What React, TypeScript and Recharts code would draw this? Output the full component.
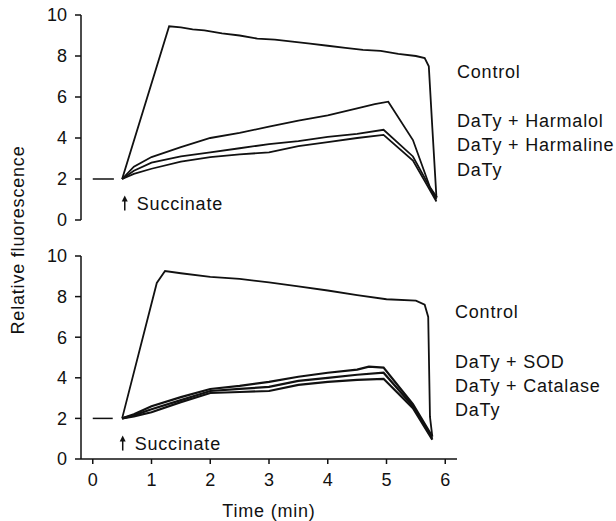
import { LineChart, Line, XAxis, YAxis, ReferenceLine, ReferenceDot } from "recharts";

// time (min) / relative fluorescence
const topControl = [
  { t: 0.5, v: 2.0 }, { t: 1.3, v: 9.45 }, { t: 1.5, v: 9.4 }, { t: 1.7, v: 9.3 },
  { t: 1.9, v: 9.25 }, { t: 2.2, v: 9.1 }, { t: 2.5, v: 9.0 }, { t: 2.8, v: 8.85 },
  { t: 3.1, v: 8.8 }, { t: 3.4, v: 8.7 }, { t: 3.7, v: 8.6 }, { t: 4.0, v: 8.5 },
  { t: 4.3, v: 8.4 }, { t: 4.6, v: 8.3 }, { t: 4.9, v: 8.25 }, { t: 5.2, v: 8.1 },
  { t: 5.5, v: 8.0 }, { t: 5.65, v: 7.9 }, { t: 5.72, v: 7.5 }, { t: 5.78, v: 4.5 },
  { t: 5.85, v: 1.1 },
];
const topHarmalol = [
  { t: 0.5, v: 2.0 }, { t: 0.7, v: 2.6 }, { t: 1.0, v: 3.07 }, { t: 1.5, v: 3.55 },
  { t: 2.0, v: 4.0 }, { t: 2.5, v: 4.25 }, { t: 3.0, v: 4.55 }, { t: 3.5, v: 4.85 },
  { t: 4.0, v: 5.1 }, { t: 4.5, v: 5.45 }, { t: 4.8, v: 5.65 }, { t: 5.03, v: 5.77 },
  { t: 5.45, v: 3.9 }, { t: 5.74, v: 1.6 }, { t: 5.86, v: 1.1 },
];
const topHarmaline = [
  { t: 0.5, v: 2.0 }, { t: 0.7, v: 2.4 }, { t: 1.0, v: 2.8 }, { t: 1.5, v: 3.1 },
  { t: 2.0, v: 3.3 }, { t: 2.5, v: 3.5 }, { t: 3.0, v: 3.7 }, { t: 3.5, v: 3.85 },
  { t: 4.0, v: 4.05 }, { t: 4.5, v: 4.2 }, { t: 4.95, v: 4.4 }, { t: 5.45, v: 3.1 },
  { t: 5.69, v: 1.85 }, { t: 5.85, v: 1.0 },
];
const topDaTy = [
  { t: 0.5, v: 2.0 }, { t: 0.7, v: 2.25 }, { t: 1.0, v: 2.5 }, { t: 1.5, v: 2.85 },
  { t: 2.0, v: 3.07 }, { t: 2.5, v: 3.2 }, { t: 3.0, v: 3.3 }, { t: 3.5, v: 3.6 },
  { t: 4.0, v: 3.8 }, { t: 4.5, v: 4.0 }, { t: 4.95, v: 4.15 }, { t: 5.45, v: 2.9 },
  { t: 5.69, v: 1.7 }, { t: 5.85, v: 0.9 },
];

const botControl = [
  { t: 0.5, v: 2.0 }, { t: 1.09, v: 8.67 }, { t: 1.23, v: 9.26 }, { t: 1.5, v: 9.15 },
  { t: 2.0, v: 8.97 }, { t: 2.5, v: 8.87 }, { t: 3.0, v: 8.7 }, { t: 3.5, v: 8.5 },
  { t: 4.0, v: 8.3 }, { t: 4.5, v: 8.07 }, { t: 5.0, v: 7.87 }, { t: 5.5, v: 7.8 },
  { t: 5.65, v: 7.6 }, { t: 5.71, v: 7.0 }, { t: 5.74, v: 2.07 }, { t: 5.78, v: 1.1 },
];
const botSOD = [
  { t: 0.5, v: 2.0 }, { t: 0.7, v: 2.2 }, { t: 1.0, v: 2.6 }, { t: 1.5, v: 3.05 },
  { t: 2.0, v: 3.45 }, { t: 2.5, v: 3.6 }, { t: 3.0, v: 3.8 }, { t: 3.5, v: 4.05 },
  { t: 4.0, v: 4.25 }, { t: 4.5, v: 4.4 }, { t: 4.7, v: 4.55 }, { t: 4.95, v: 4.5 },
  { t: 5.45, v: 2.7 }, { t: 5.78, v: 1.1 },
];
const botCatalase = [
  { t: 0.5, v: 2.0 }, { t: 0.7, v: 2.15 }, { t: 1.0, v: 2.45 }, { t: 1.5, v: 2.9 },
  { t: 2.0, v: 3.35 }, { t: 2.5, v: 3.45 }, { t: 3.0, v: 3.55 }, { t: 3.5, v: 3.85 },
  { t: 4.0, v: 4.0 }, { t: 4.5, v: 4.15 }, { t: 4.95, v: 4.25 }, { t: 5.45, v: 2.6 },
  { t: 5.78, v: 1.0 },
];
const botDaTy = [
  { t: 0.5, v: 2.0 }, { t: 0.7, v: 2.1 }, { t: 1.0, v: 2.3 }, { t: 1.5, v: 2.8 },
  { t: 2.0, v: 3.25 }, { t: 2.5, v: 3.3 }, { t: 3.0, v: 3.35 }, { t: 3.5, v: 3.65 },
  { t: 4.0, v: 3.8 }, { t: 4.5, v: 3.9 }, { t: 4.95, v: 3.95 }, { t: 5.45, v: 2.5 },
  { t: 5.78, v: 0.95 },
];

const yTicks = [0, 2, 4, 6, 8, 10];
const xTicks = [0, 1, 2, 3, 4, 5, 6];
const topLabels = ["Control", "DaTy + Harmalol", "DaTy + Harmaline", "DaTy"];
const botLabels = ["Control", "DaTy + SOD", "DaTy + Catalase", "DaTy"];

const FONT = "'Liberation Sans', Arial, sans-serif";
const INK = "#111";
const tickStyle = { fontFamily: FONT, fontSize: 18, fill: INK };
const textStyle = { fontFamily: FONT, fontSize: 18, fill: INK, letterSpacing: 0.8 };

const Succinate = ({ cx = 0, cy = 0 }: { cx?: number; cy?: number }) => (
  <g>
    <line x1={cx} y1={cy - 5} x2={cx} y2={cy + 7} stroke={INK} strokeWidth={1.5} />
    <path d={`M${cx - 3},${cy - 2} L${cx},${cy - 8} L${cx + 3},${cy - 2} Z`} fill={INK} />
    <text x={cx + 12} y={cy + 6.4} style={textStyle}>
      Succinate
    </text>
  </g>
);

const trace = (data: { t: number; v: number }[], key: string, w = 1.8) => (
  <Line
    key={key}
    data={data}
    dataKey="v"
    type="linear"
    stroke={INK}
    strokeWidth={w}
    dot={false}
    isAnimationActive={false}
  />
);

const App = () => {
  return (
    <div style={{ position: "absolute", left: 0, top: 0, width: 616, height: 521, background: "#fff" }}>
      <div style={{ position: "absolute", left: 0, top: 0 }}>
        <LineChart width={616} height={240} margin={{ top: 15, right: 159, bottom: 20, left: 0 }}>
          <XAxis type="number" dataKey="t" domain={[-0.2, 6.2]} hide />
          <YAxis
            type="number"
            domain={[0, 10]}
            ticks={yTicks}
            width={81}
            tickSize={6}
            tickMargin={8}
            tick={tickStyle}
            stroke={INK}
            strokeWidth={1.5}
          />
          <ReferenceLine segment={[{ x: 0, y: 2 }, { x: 0.36, y: 2 }]} stroke={INK} strokeWidth={1.5} />
          <ReferenceDot x={0.545} y={0.8} r={0} shape={(p: any) => <Succinate cx={p.cx} cy={p.cy} />} />
          {trace(topControl, "c")}
          {trace(topHarmalol, "h1")}
          {trace(topHarmaline, "h2")}
          {trace(topDaTy, "d")}
        </LineChart>
      </div>
      <div style={{ position: "absolute", left: 0, top: 240 }}>
        <LineChart width={616} height={281} margin={{ top: 16, right: 159, bottom: 0, left: 0 }}>
          <XAxis
            type="number"
            dataKey="t"
            domain={[-0.2, 6.2]}
            ticks={xTicks}
            height={62}
            tickSize={5}
            tickMargin={9}
            tick={tickStyle}
            stroke={INK}
            strokeWidth={1.5}
            label={{ value: "Time (min)", position: "insideBottom", offset: 4, style: textStyle }}
          />
          <YAxis
            type="number"
            domain={[0, 10]}
            ticks={yTicks}
            width={81}
            tickSize={6}
            tickMargin={8}
            tick={tickStyle}
            stroke={INK}
            strokeWidth={1.5}
          />
          <ReferenceLine segment={[{ x: 0, y: 2 }, { x: 0.34, y: 2 }]} stroke={INK} strokeWidth={1.5} />
          <ReferenceDot x={0.51} y={0.76} r={0} shape={(p: any) => <Succinate cx={p.cx} cy={p.cy} />} />
          {trace(botControl, "c")}
          {trace(botSOD, "s", 2.2)}
          {trace(botCatalase, "k", 2.2)}
          {trace(botDaTy, "d", 2.2)}
        </LineChart>
      </div>
      <svg width={616} height={521} style={{ position: "absolute", left: 0, top: 0, pointerEvents: "none" }}>
        <text
          x={18}
          y={240}
          transform="rotate(-90 18 240)"
          textAnchor="middle"
          dominantBaseline="central"
          style={textStyle}
        >
          Relative fluorescence
        </text>
        {topLabels.map((s, i) => (
          <text key={s} x={457} y={[78, 127, 151, 175.5][i]} style={textStyle}>
            {s}
          </text>
        ))}
        {botLabels.map((s, i) => (
          <text key={s} x={455} y={[318, 367.5, 392, 416][i]} style={textStyle}>
            {s}
          </text>
        ))}
      </svg>
    </div>
  );
};

export default App;
